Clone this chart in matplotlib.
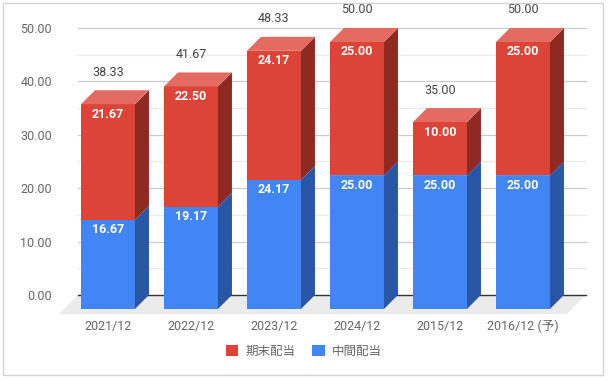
import matplotlib
matplotlib.use("Agg")
import matplotlib.pyplot as plt
from matplotlib.patches import Polygon, Rectangle

categories = ["2021/12", "2022/12", "2023/12", "2024/12", "2015/12", "2016/12 (予)"]
interim = [16.67, 19.17, 24.17, 25.00, 25.00, 25.00]   # 中間配当
final = [21.67, 22.50, 24.17, 25.00, 10.00, 25.00]     # 期末配当
totals = [38.33, 41.67, 48.33, 50.00, 35.00, 50.00]
series_names = ["期末配当", "中間配当"]
yticks = [0, 10, 20, 30, 40, 50]

FONT = ["Roboto", "Noto Sans CJK JP", "DejaVu Sans"]
plt.rcParams["font.family"] = FONT

RED, RED_SIDE, RED_TOP = "#DB4437", "#8E2A22", "#E36B61"
BLUE, BLUE_SIDE, BLUE_TOP = "#4285F4", "#2A56A8", "#6fa3f7"

PX_X = 83.0      # px per category
PX_Y = 5.34      # px per unit
dx = 14 / PX_X
dy = 14 / PX_Y
w = 54 / PX_X

fig = plt.figure(figsize=(6.09, 3.80), dpi=100)
ax = fig.add_axes([58 / 609, 65 / 380, 542 / 609, 311 / 380])
ax.set_xlim(-0.602, -0.602 + 542 / PX_X)
ax.set_ylim(-3.75, -3.75 + 311 / PX_Y)
for s in ax.spines.values():
    s.set_visible(False)

gx0, gx1 = -0.361, 5.76
# gridlines
for v in range(5, 55, 10):
    ax.plot([gx0, gx1], [v, v], color="#ebebeb", lw=0.9, zorder=1)
for v in range(10, 55, 10):
    ax.plot([gx0, gx1], [v, v], color="#cccccc", lw=0.9, zorder=1)

# floor
floor = Polygon([(-0.59, -3.56), (5.53, -3.56), (gx1 + 0.0, 0), (gx0, 0)],
                closed=True, facecolor="#ebebeb", edgecolor="none", zorder=2)
ax.add_patch(floor)
ax.plot([gx0, gx1], [0, 0], color="#333333", lw=1.0, zorder=3)


def box(x, b, t, front, side, top, z):
    xl, xr = x - w / 2, x + w / 2
    ax.add_patch(Polygon([(xl, b - dy), (xr, b - dy), (xr, t - dy), (xl, t - dy)],
                         closed=True, facecolor=front, edgecolor="none", zorder=z))
    ax.add_patch(Polygon([(xr, b - dy), (xr + dx, b), (xr + dx, t), (xr, t - dy)],
                         closed=True, facecolor=side, edgecolor="none", zorder=z))
    if top is not None:
        ax.add_patch(Polygon([(xl, t - dy), (xr, t - dy), (xr + dx, t), (xl + dx, t)],
                             closed=True, facecolor=top, edgecolor="none", zorder=z))


for i in range(len(categories)):
    z = 4 + i
    box(i, 0, interim[i], BLUE, BLUE_SIDE, BLUE_TOP, z)
    box(i, interim[i], interim[i] + final[i], RED, RED_SIDE, RED_TOP, z + 0.1)
    ax.text(i, interim[i] - dy - 10 / PX_Y, f"{interim[i]:.2f}", color="white",
            fontsize=9, fontweight="bold", ha="center", va="center", zorder=20)
    ax.text(i, interim[i] + final[i] - dy - 10 / PX_Y, f"{final[i]:.2f}", color="white",
            fontsize=9, fontweight="bold", ha="center", va="center", zorder=20)
    ax.text(i, totals[i] + 18 / PX_Y, f"{totals[i]:.2f}", color="#444444",
            fontsize=9, ha="center", va="center", zorder=20, clip_on=False)

ax.set_yticks(yticks)
ax.set_yticklabels([f"{v:.2f}" for v in yticks], color="#666666", fontsize=9)
ax.set_xticks(range(len(categories)))
ax.set_xticklabels(categories, color="#666666", fontsize=9)
ax.tick_params(axis="both", length=0)
ax.tick_params(axis="y", pad=4.3)
ax.tick_params(axis="x", pad=3.5)

handles = [Rectangle((0, 0), 1, 1, facecolor=RED), Rectangle((0, 0), 1, 1, facecolor=BLUE)]
leg = fig.legend(handles, series_names, loc="center", bbox_to_anchor=(304 / 609, 29 / 380),
                 ncol=2, frameon=False, fontsize=9, handlelength=1.0, handleheight=1.0,
                 handletextpad=0.6, columnspacing=1.3)
for t in leg.get_texts():
    t.set_color("#666666")

fig.patches.append(Rectangle((3 / 609, 5 / 380), 600 / 609, 372 / 380, transform=fig.transFigure,
                             fill=False, edgecolor="#d4d4d4", lw=1.0))

fig.savefig("out.png", dpi=100)
